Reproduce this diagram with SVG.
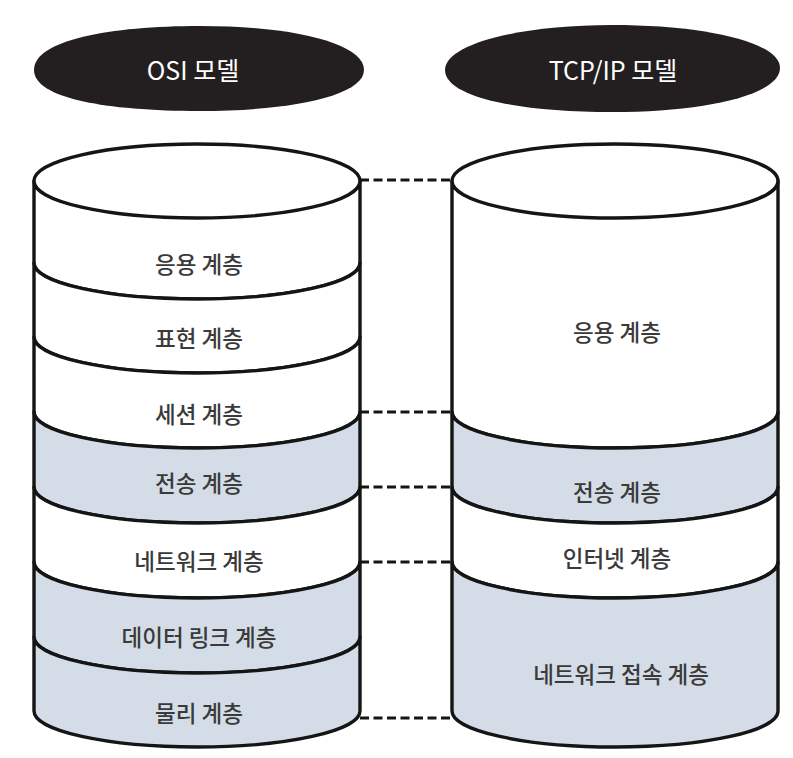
<svg xmlns="http://www.w3.org/2000/svg" width="793" height="758" viewBox="0 0 793 758">
  <style>
    .hdr { fill: #231f20; }
    .hdrtxt { font-family: "Noto Sans CJK KR", "Noto Sans", sans-serif; font-size: 25px; fill: #ffffff; text-anchor: middle; dominant-baseline: central; }
    .lyr { stroke: #151515; stroke-width: 3.4; stroke-linejoin: round; }
    .w { fill: #ffffff; }
    .b { fill: #d4dde7; }
    .txt { font-family: "Noto Sans CJK KR", "Noto Sans", sans-serif; font-size: 22.5px; font-weight: 500; fill: #3a3a3a; text-anchor: middle; dominant-baseline: central; }
    .dash { stroke: #151515; stroke-width: 3.2; stroke-dasharray: 9 4.5; fill: none; }
  </style>

  <g id="header-osi">
    <path class="hdr" d="M34,70 C34,40 110,26 200,26 C295,26 364,44 364,70 C364,96 290,111 200,111 C105,111 34,98 34,70 Z"/>
    <text class="hdrtxt" x="193" y="69">OSI 모델</text>
  </g>
  <g id="header-tcpip">
    <path class="hdr" d="M445,70 C445,44 520,25 612,25 C705,25 780,42 780,68 C780,95 705,112 612,112 C518,112 445,97 445,70 Z"/>
    <text class="hdrtxt" x="613" y="69">TCP/IP 모델</text>
  </g>

  <g id="connectors">
    <line class="dash" x1="360" y1="180" x2="452" y2="180"/>
    <line class="dash" x1="360" y1="412" x2="452" y2="412"/>
    <line class="dash" x1="360" y1="487" x2="452" y2="487"/>
    <line class="dash" x1="360" y1="562" x2="452" y2="562"/>
    <line class="dash" x1="360" y1="718" x2="452" y2="718"/>
  </g>

  <!-- OSI cylinder -->
  <g id="osi-application">
    <path class="lyr w" d="M34,181 L34,263 A163,36 0 0 0 360,263 L360,181 A163,36 0 0 1 34,181 Z"/>
    <text class="txt" x="199" y="263">응용 계층</text>
  </g>
  <g id="osi-presentation">
    <path class="lyr w" d="M34,263 L34,337 A163,36 0 0 0 360,337 L360,263 A163,36 0 0 1 34,263 Z"/>
    <text class="txt" x="199" y="337">표현 계층</text>
  </g>
  <g id="osi-session">
    <path class="lyr w" d="M34,337 L34,412 A163,36 0 0 0 360,412 L360,337 A163,36 0 0 1 34,337 Z"/>
    <text class="txt" x="199" y="413">세션 계층</text>
  </g>
  <g id="osi-transport">
    <path class="lyr b" d="M34,412 L34,487 A163,36 0 0 0 360,487 L360,412 A163,36 0 0 1 34,412 Z"/>
    <text class="txt" x="199" y="482">전송 계층</text>
  </g>
  <g id="osi-network">
    <path class="lyr w" d="M34,487 L34,562 A163,36 0 0 0 360,562 L360,487 A163,36 0 0 1 34,487 Z"/>
    <text class="txt" x="199" y="560">네트워크 계층</text>
  </g>
  <g id="osi-datalink">
    <path class="lyr b" d="M34,562 L34,637 A163,36 0 0 0 360,637 L360,562 A163,36 0 0 1 34,562 Z"/>
    <text class="txt" x="199" y="636">데이터 링크 계층</text>
  </g>
  <g id="osi-physical">
    <path class="lyr b" d="M34,637 L34,711 A163,36 0 0 0 360,711 L360,637 A163,36 0 0 1 34,637 Z"/>
    <text class="txt" x="199" y="712">물리 계층</text>
  </g>
  <g id="osi-top">
    <ellipse class="lyr w" cx="197" cy="181" rx="163" ry="37"/>
  </g>

  <!-- TCP/IP cylinder -->
  <g id="tcp-application">
    <path class="lyr w" d="M452,181 L452,412 A163,36 0 0 0 778,412 L778,181 A163,36 0 0 1 452,181 Z"/>
    <text class="txt" x="617" y="331">응용 계층</text>
  </g>
  <g id="tcp-transport">
    <path class="lyr b" d="M452,412 L452,487 A163,36 0 0 0 778,487 L778,412 A163,36 0 0 1 452,412 Z"/>
    <text class="txt" x="617" y="491">전송 계층</text>
  </g>
  <g id="tcp-internet">
    <path class="lyr w" d="M452,487 L452,562 A163,36 0 0 0 778,562 L778,487 A163,36 0 0 1 452,487 Z"/>
    <text class="txt" x="617" y="557">인터넷 계층</text>
  </g>
  <g id="tcp-netaccess">
    <path class="lyr b" d="M452,562 L452,711 A163,36 0 0 0 778,711 L778,562 A163,36 0 0 1 452,562 Z"/>
    <text class="txt" x="621" y="673">네트워크 접속 계층</text>
  </g>
  <g id="tcp-top">
    <ellipse class="lyr w" cx="615" cy="181" rx="163" ry="37"/>
  </g>
</svg>
